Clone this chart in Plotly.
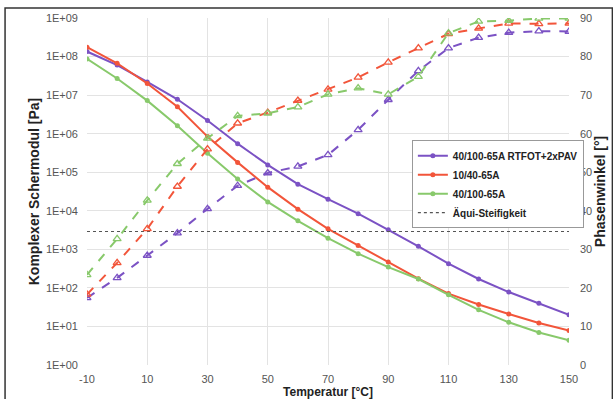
import plotly.graph_objects as go

temps = [-10, 0, 10, 20, 30, 40, 50, 60, 70, 80, 90, 100, 110, 120, 130, 140, 150]

g_rtfot = [1.35e8, 6.0e7, 2.2e7, 7.8e6, 2.2e6, 5.5e5, 1.55e5, 4.9e4, 2.0e4, 8.4e3, 3.2e3, 1.2e3, 425, 170, 78, 40, 20]
g_1040 = [1.75e8, 6.7e7, 2.0e7, 5.0e6, 8.4e5, 1.8e5, 4.1e4, 1.1e4, 3.4e3, 1.26e3, 470, 173, 71, 37, 21, 12.3, 7.8]
g_40100 = [8.7e7, 2.7e7, 7.2e6, 1.6e6, 3.1e5, 6.7e4, 1.7e4, 5.5e3, 1.95e3, 770, 347, 170, 66, 27, 12.8, 7.0, 4.4]

p_rtfot = [17.4, 22.6, 28.4, 34.2, 40.5, 46.5, 49.8, 51.5, 54.5, 61.0, 68.8, 76.3, 82.2, 84.9, 86.2, 86.6, 86.5]
p_1040 = [18.3, 26.5, 35.3, 46.3, 56.0, 62.7, 65.5, 68.6, 71.5, 74.6, 78.5, 82.2, 85.9, 87.3, 88.6, 88.5, 88.6]
p_40100 = [23.4, 32.7, 42.7, 52.2, 58.8, 64.6, 65.3, 66.9, 70.2, 71.8, 70.2, 74.8, 86.1, 89.1, 89.3, 89.9, 89.9]

equi_x = [-10, 150]
equi_g = [2.9e3, 2.9e3]

names = ["40/100-65A RTFOT+2xPAV", "10/40-65A", "40/100-65A"]
colors = ["#7B52C4", "#F2553A", "#88C96B"]

x_ticks = [-10, 10, 30, 50, 70, 90, 110, 130, 150]
x_ticktext = ["-10", "10", "30", "50", "70", "90", "110", "130", "150"]
y_ticks = [1, 10, 100, 1e3, 1e4, 1e5, 1e6, 1e7, 1e8, 1e9]
y_ticktext = ["1E+00", "1E+01", "1E+02", "1E+03", "1E+04", "1E+05", "1E+06", "1E+07", "1E+08", "1E+09"]
y2_ticks = [0, 10, 20, 30, 40, 50, 60, 70, 80, 90]

fig = go.Figure()

for g, nm, c in zip([g_rtfot, g_1040, g_40100], names, colors):
    fig.add_trace(go.Scatter(x=temps, y=g, name=nm, mode="lines+markers",
                             line=dict(color=c, width=2),
                             marker=dict(symbol="circle", size=5, color=c)))

fig.add_trace(go.Scatter(x=equi_x, y=equi_g, name="Äqui-Steifigkeit", mode="lines",
                         line=dict(color="#555555", width=1.2, dash="dot")))

for p, c in zip([p_rtfot, p_1040, p_40100], colors):
    fig.add_trace(go.Scatter(x=temps, y=p, yaxis="y2", mode="lines+markers", showlegend=False,
                             line=dict(color=c, width=2, dash="dash"),
                             marker=dict(symbol="triangle-up-open", size=7, color=c, line=dict(width=1.3, color=c))))

font_main = "Liberation Sans, Arial, sans-serif"

fig.update_layout(
    width=613, height=399,
    margin=dict(l=87, r=44, t=18, b=34),
    paper_bgcolor="white", plot_bgcolor="white",
    font=dict(family=font_main, size=11, color="#555555"),
    xaxis=dict(range=[-10, 150], tickvals=x_ticks, ticktext=x_ticktext, showgrid=True, gridcolor="#E3E3E3",
               zeroline=False, showline=False, ticks="", ticklabelstandoff=6, automargin=False,
               tickfont=dict(size=11, color="#555555"),
               title=dict(text="<b>Temperatur [°C]</b>", font=dict(size=12, color="#222222"), standoff=4)),
    yaxis=dict(type="log", range=[0, 9], tickvals=y_ticks, ticktext=y_ticktext, showgrid=True,
               gridcolor="#E3E3E3", zeroline=False, showline=False, ticks="", ticklabelstandoff=8,
               automargin=False, tickfont=dict(size=11, color="#555555"),
               title=dict(text="<b>Komplexer Schermodul [Pa]</b>", font=dict(size=14, color="#222222"), standoff=2)),
    yaxis2=dict(overlaying="y", side="right", range=[0, 90], tickvals=y2_ticks, showgrid=False,
                zeroline=False, showline=False, ticks="", ticklabelstandoff=10, automargin=False,
                tickfont=dict(size=11, color="#555555"),
                title=dict(text="<b>Phasenwinkel [°]</b>", font=dict(size=14, color="#222222"), standoff=0)),
    legend=dict(x=0.674, y=0.648, xanchor="left", yanchor="top", bgcolor="white",
                bordercolor="#999999", borderwidth=1,
                font=dict(size=10, color="#222222", weight="bold"),
                tracegroupgap=0, itemwidth=30),
    showlegend=True,
)

fig.add_shape(type="rect", xref="paper", yref="paper", x0=-0.170, x1=1.09, y0=-0.2, y1=1.029,
              line=dict(color="#333333", width=1.5), fillcolor="rgba(0,0,0,0)", layer="below")

fig.write_html("out.html")
